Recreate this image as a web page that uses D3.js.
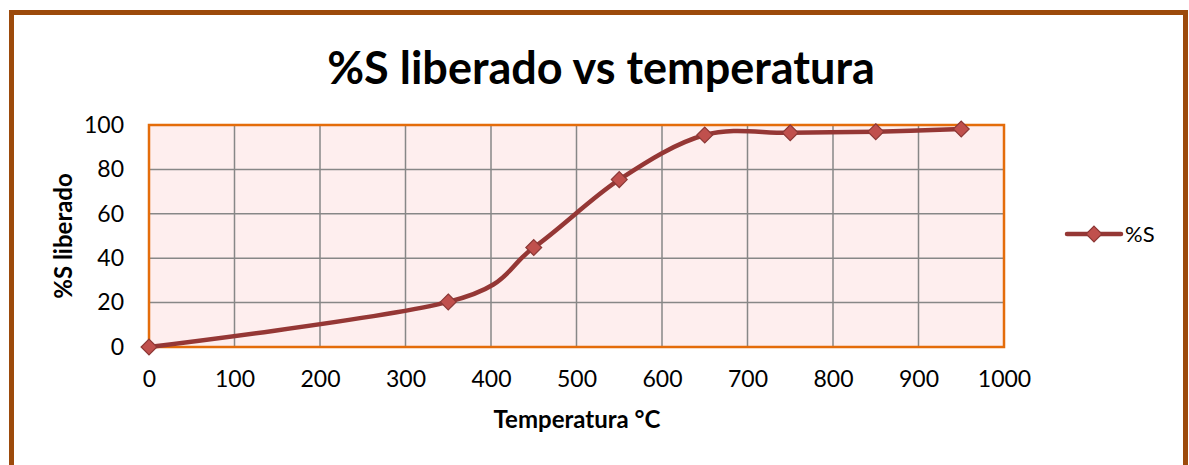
<!DOCTYPE html>
<html lang="es">
<head>
    <meta charset="UTF-8">
    <title>%S liberado vs temperatura</title>
    <script src="https://d3js.org/d3.v7.min.js"></script>
    <style>
        body { margin: 0; background: #fff; }
        text { font-family: Lato, "Open Sans", sans-serif; fill: #000; }
        .grid line { stroke: #878787; stroke-width: 1.5px; }
        .axis text { font-size: 23px; }
        .axis path, .axis line { display: none; }
    </style>
</head>
<body>
<div id="chart"></div>
<script>
    // datos
    var temperaturas = [0, 350, 450, 550, 650, 750, 850, 950];
    var azufre = [0, 20.3, 44.8, 75.4, 95.5, 96.5, 97, 98.2];
    var xTicks = [0, 100, 200, 300, 400, 500, 600, 700, 800, 900, 1000];
    var yTicks = [0, 20, 40, 60, 80, 100];
    var serie = "%S";

    var W = 1189, H = 465;
    var margin = {top: 125, right: 185, bottom: 118, left: 149},
        width = 1004 - margin.left,
        height = 347 - margin.top;

    var svg = d3.select("#chart")
        .append("svg")
        .attr("width", W)
        .attr("height", H);

    // marco exterior
    svg.append("rect")
        .attr("x", 11.5).attr("y", 12.5)
        .attr("width", 1174).attr("height", 470)
        .attr("fill", "none")
        .attr("stroke", "#9C4A0B")
        .attr("stroke-width", 5);

    svg.append("text")
        .attr("x", 601).attr("y", 84)
        .attr("text-anchor", "middle")
        .style("font-size", "45px")
        .style("font-weight", "bold")
        .text("%S liberado vs temperatura");

    var g = svg.append("g")
        .attr("transform", "translate(" + margin.left + "," + margin.top + ")");

    var x = d3.scaleLinear().domain([0, 1000]).range([0, width]);
    var y = d3.scaleLinear().domain([0, 100]).range([height, 0]);

    g.append("rect")
        .attr("width", width).attr("height", height)
        .attr("fill", "#FEEEEE");

    var grid = g.append("g").attr("class", "grid");
    grid.selectAll(".gx")
        .data(xTicks)
        .enter().append("line")
        .attr("x1", function (d) { return x(d); })
        .attr("x2", function (d) { return x(d); })
        .attr("y1", 0).attr("y2", height);
    grid.selectAll(".gy")
        .data(yTicks)
        .enter().append("line")
        .attr("x1", 0).attr("x2", width)
        .attr("y1", function (d) { return y(d); })
        .attr("y2", function (d) { return y(d); });

    g.append("rect")
        .attr("width", width).attr("height", height)
        .attr("fill", "none")
        .attr("stroke", "#E46C0A")
        .attr("stroke-width", 2.5);

    g.append("g")
        .attr("class", "axis")
        .attr("transform", "translate(0," + height + ")")
        .call(d3.axisBottom(x).tickValues(xTicks).tickFormat(d3.format("d")).tickSize(0).tickPadding(24))
        .selectAll("text").attr("dy", "0.71em");

    g.append("g")
        .attr("class", "axis")
        .call(d3.axisLeft(y).tickValues(yTicks).tickSize(0).tickPadding(25));

    svg.append("text")
        .attr("x", 577).attr("y", 428)
        .attr("text-anchor", "middle")
        .style("font-size", "24px")
        .style("font-weight", "bold")
        .text("Temperatura °C");

    svg.append("text")
        .attr("transform", "translate(72,236) rotate(-90)")
        .attr("text-anchor", "middle")
        .style("font-size", "24px")
        .style("font-weight", "bold")
        .text("%S liberado");

    var datos = temperaturas.map(function (t, i) { return {t: t, v: azufre[i]}; });

    var linea = d3.line()
        .x(function (d) { return x(d.t); })
        .y(function (d) { return y(d.v); })
        .curve(d3.curveCardinal.tension(0));

    g.append("path")
        .datum(datos)
        .attr("fill", "none")
        .attr("stroke", "#953735")
        .attr("stroke-width", 4.5)
        .attr("stroke-linecap", "round")
        .attr("d", linea);

    var rombo = d3.symbol().type(d3.symbolDiamond2).size(160);

    g.selectAll(".punto")
        .data(datos)
        .enter().append("path")
        .attr("class", "punto")
        .attr("transform", function (d) { return "translate(" + x(d.t) + "," + y(d.v) + ")"; })
        .attr("d", rombo)
        .attr("fill", "#C0504D")
        .attr("stroke", "#8C3836")
        .attr("stroke-width", 1.2);

    // leyenda
    var ley = svg.append("g").attr("transform", "translate(1067,234)");
    ley.append("line")
        .attr("x1", 0).attr("x2", 54)
        .attr("stroke", "#953735")
        .attr("stroke-width", 4.5)
        .attr("stroke-linecap", "round");
    ley.append("path")
        .attr("transform", "translate(27,0)")
        .attr("d", rombo)
        .attr("fill", "#C0504D")
        .attr("stroke", "#8C3836")
        .attr("stroke-width", 1.2);
    ley.append("text")
        .attr("x", 58).attr("y", 8)
        .style("font-size", "22px")
        .text(serie);
</script>
</body>
</html>
